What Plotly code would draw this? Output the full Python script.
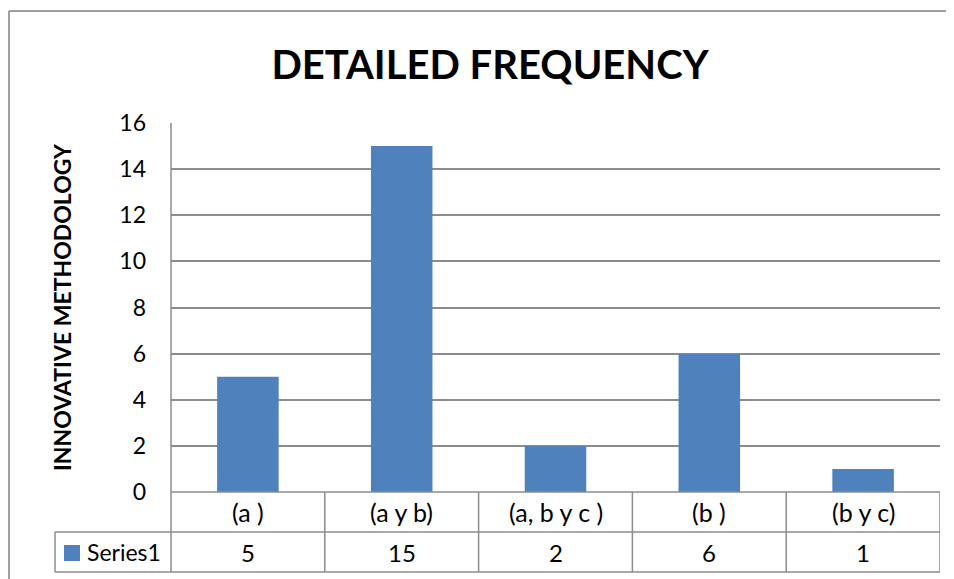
import plotly.graph_objects as go

categories = ["(a )", "(a y b)", "(a, b y c )", "(b )", "(b y c)"]
values = [5, 15, 2, 6, 1]
series_name = "Series1"
title_text = "DETAILED FREQUENCY"
y_title = "INNOVATIVE METHODOLOGY"
y_ticks = [0, 2, 4, 6, 8, 10, 12, 14, 16]

OFF = 8  # page body margin
W, H = 954 - OFF, 579 - OFF
SL, SR, ST, SB = 171, 940, 123, 492
L, T = SL - OFF, ST - OFF
R, B = W - (SR - OFF), H - (SB - OFF)
PW, PH = W - L - R, H - T - B

BAR = "#4F81BD"
GRID = "#8C8C8C"
FONT = "Lato, sans-serif"

def px_x(sx):
    return (sx - OFF - L) / PW

def px_y(sy):
    return 1 - (sy - OFF - T) / PH

fig = go.Figure()
fig.add_trace(go.Bar(x=list(range(len(categories))), y=values, name=series_name,
                     marker=dict(color=BAR, line=dict(width=0)), width=0.4))

n = len(categories)
row1_top, row1_bot, row2_bot = 492, 532, 572
shapes = []
line = dict(color=GRID, width=1.5)
shapes.append(dict(type="line", xref="paper", yref="paper", x0=0, x1=1, y0=px_y(row1_top), y1=px_y(row1_top), line=line))
shapes.append(dict(type="line", xref="paper", yref="paper", x0=px_x(55), x1=1, y0=px_y(row1_bot), y1=px_y(row1_bot), line=line))
shapes.append(dict(type="line", xref="paper", yref="paper", x0=px_x(55), x1=1, y0=px_y(row2_bot), y1=px_y(row2_bot), line=line))
shapes.append(dict(type="line", xref="paper", yref="paper", x0=0, x1=0, y0=1, y1=px_y(row2_bot), line=line))
shapes.append(dict(type="line", xref="paper", yref="paper", x0=px_x(55), x1=px_x(55), y0=px_y(row1_bot), y1=px_y(row2_bot), line=line))
for i in range(n):
    xb = i + 0.5
    shapes.append(dict(type="line", xref="x", yref="paper", x0=xb, x1=xb, y0=px_y(row1_top), y1=px_y(row2_bot), line=line))
shapes.append(dict(type="rect", xref="paper", yref="paper", x0=px_x(64), x1=px_x(80), y0=px_y(545), y1=px_y(561), fillcolor=BAR, line=dict(width=0)))
border = dict(color="#7F7F7F", width=1.5)
shapes.append(dict(type="line", xref="paper", yref="paper", x0=px_x(9), x1=px_x(9), y0=px_y(11), y1=px_y(620), line=border))
shapes.append(dict(type="line", xref="paper", yref="paper", x0=px_x(9), x1=px_x(1000), y0=px_y(11), y1=px_y(11), line=border))

CAT_SIZE = 25
VAL_SIZE = 24
annotations = []
for i, (c, v) in enumerate(zip(categories, values)):
    annotations.append(dict(x=i, y=px_y((row1_top + row1_bot) / 2), xref="x", yref="paper", text=c,
                            xanchor="center", yanchor="middle",
                            showarrow=False, font=dict(size=CAT_SIZE, color="#000", family=FONT)))
    annotations.append(dict(x=i, y=px_y((row1_bot + row2_bot) / 2), xref="x", yref="paper", text=str(v),
                            xanchor="center", yanchor="middle",
                            showarrow=False, font=dict(size=VAL_SIZE, color="#000", family=FONT)))
annotations.append(dict(x=px_x(85), y=px_y((row1_bot + row2_bot) / 2), xref="paper", yref="paper", text=series_name,
                        xanchor="left", yanchor="middle", showarrow=False, font=dict(size=23, color="#000", family=FONT)))
annotations.append(dict(x=px_x(62), y=px_y(307), xref="paper", yref="paper", text="<b>" + y_title + "</b>",
                        xanchor="center", yanchor="middle",
                        textangle=-90, showarrow=False, font=dict(size=23, color="#000", family=FONT)))

fig.update_layout(
    width=W, height=H,
    margin=dict(l=L, r=R, t=T, b=B),
    paper_bgcolor="white", plot_bgcolor="white",
    showlegend=False,
    title=dict(text="<b>" + title_text + "</b>", x=(490 - OFF) / W, xanchor="center",
               y=1 - (65 - OFF) / H, yanchor="middle",
               font=dict(size=40, color="#000", family=FONT)),
    xaxis=dict(range=[-0.5, n - 0.5], showticklabels=False, showgrid=False, zeroline=False, showline=False, ticks=""),
    yaxis=dict(range=[0, 16], tickvals=y_ticks, showgrid=True, gridcolor=GRID, gridwidth=1.5, zeroline=False,
               showline=False, ticks="", ticklabelstandoff=24,
               tickfont=dict(size=23, color="#000", family=FONT)),
    shapes=shapes, annotations=annotations,
)

fig.write_html("out.html")
